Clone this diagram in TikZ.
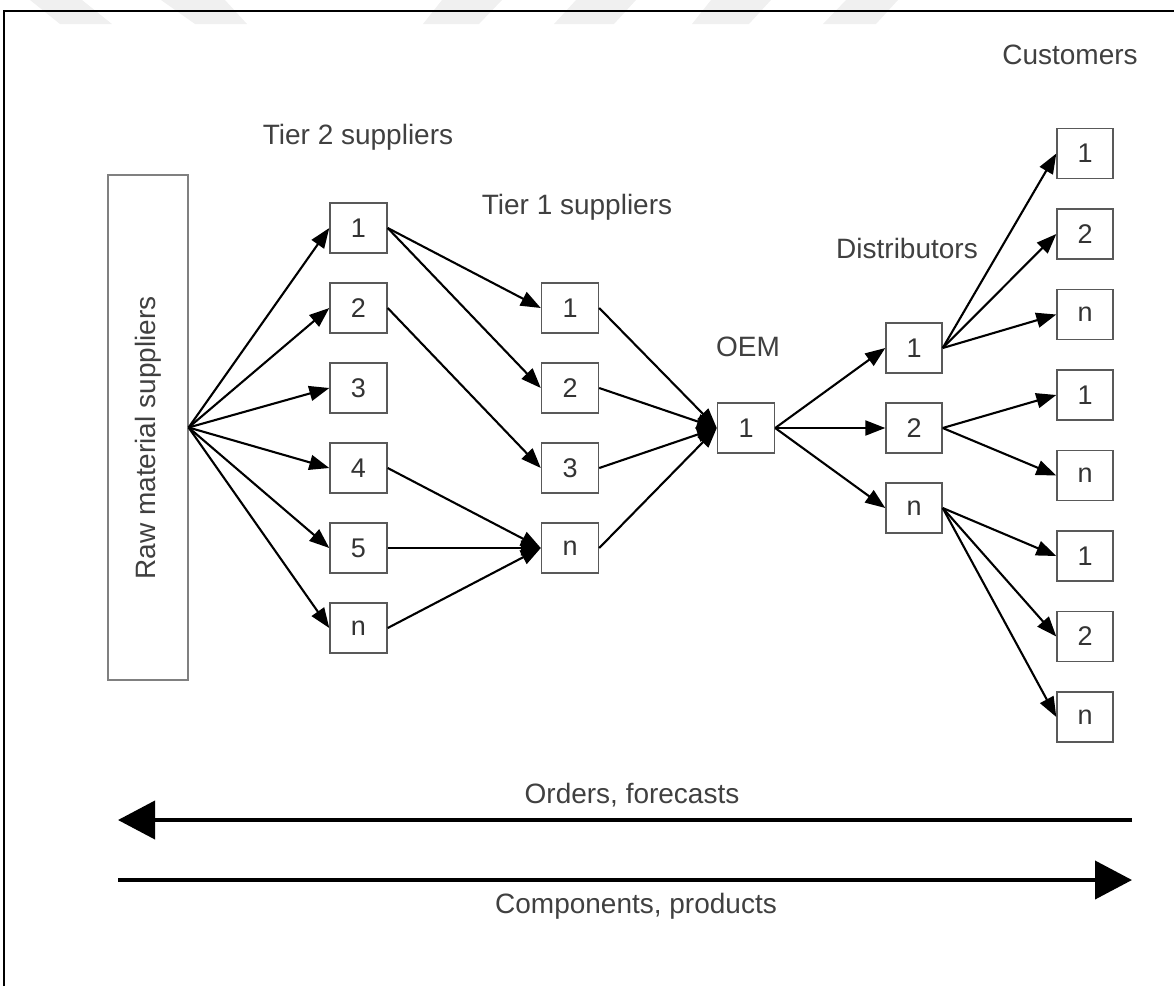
\documentclass[tikz,border=0pt]{standalone}
\usepackage{fontspec}
\setmainfont{Liberation Sans}
\usetikzlibrary{arrows.meta}
\begin{document}
\begin{tikzpicture}[x=1pt,y=-1pt,
  box/.style={draw=black!65,line width=1.4pt,minimum width=57pt,minimum height=50pt,inner sep=0pt,font=\fontsize{27}{30}\selectfont,text=black!80},
  rawbox/.style={draw=black!50,line width=1.2pt,minimum width=80pt,minimum height=505pt,inner sep=0pt},
  lbl/.style={font=\fontsize{28}{32}\selectfont,text=black!75,inner sep=0pt},
  conn/.style={line width=2.1pt,draw=black,-{Triangle[length=20pt,width=15pt]}},
  bigarrow/.style={line width=4pt,-{Triangle[length=37pt,width=38pt]}},
  wm/.style={fill=black!6}]
\useasboundingbox (0,0) rectangle (1174,986);
% faint watermark stripes
\fill[wm] (30,0) -- (82,0) -- (112,24) -- (60,24) -- cycle;
\fill[wm] (161,0) -- (225,0) -- (247,24) -- (195,24) -- cycle;
\fill[wm] (442,0) -- (502,0) -- (479,24) -- (423,24) -- cycle;
\fill[wm] (576,0) -- (636,0) -- (614,24) -- (554,24) -- cycle;
\fill[wm] (711,0) -- (771,0) -- (749,24) -- (692,24) -- cycle;
\fill[wm] (846,0) -- (898,0) -- (876,24) -- (823,24) -- cycle;
% frame
\draw[line width=2pt] (4,986) -- (4,11) -- (1174,11);

% raw material suppliers
\node[rawbox] (raw) at (148,427.5) {};
\node[lbl,rotate=90] (rawlbl) at (148,438) {Raw material suppliers};
\coordinate (fan) at (raw.east);

% tier 2
\node[box] (t2a) at (358.5,228) {1};
\node[box] (t2b) at (358.5,308) {2};
\node[box] (t2c) at (358.5,388) {3};
\node[box] (t2d) at (358.5,468) {4};
\node[box] (t2e) at (358.5,548) {5};
\node[box] (t2f) at (358.5,628) {n};
% tier 1
\node[box] (t1a) at (570,308) {1};
\node[box] (t1b) at (570,388) {2};
\node[box] (t1c) at (570,468) {3};
\node[box] (t1d) at (570,548) {n};
% OEM
\node[box] (oem) at (746,428) {1};
% distributors
\node[box,minimum width=56pt] (d1) at (914,348) {1};
\node[box,minimum width=56pt] (d2) at (914,428) {2};
\node[box,minimum width=56pt] (d3) at (914,508) {n};
% customers
\node[box,minimum width=56pt] (c1) at (1085,153.5) {1};
\node[box,minimum width=56pt] (c2) at (1085,234) {2};
\node[box,minimum width=56pt] (c3) at (1085,314.5) {n};
\node[box,minimum width=56pt] (c4) at (1085,395) {1};
\node[box,minimum width=56pt] (c5) at (1085,475.5) {n};
\node[box,minimum width=56pt] (c6) at (1085,556) {1};
\node[box,minimum width=56pt] (c7) at (1085,636.5) {2};
\node[box,minimum width=56pt] (c8) at (1085,717) {n};

% labels
\node[lbl] (l2) at (358,137) {Tier 2 suppliers};
\node[lbl] (l1) at (577,207) {Tier 1 suppliers};
\node[lbl] (loem) at (748,347) {OEM};
\node[lbl] (ldist) at (907,248) {Distributors};
\node[lbl] (lcust) at (1070,55) {Customers};

% raw -> tier 2
\foreach \t in {t2a,t2b,t2c,t2d,t2e,t2f}
  \draw[conn] (fan) -- (\t.west);
% tier 2 -> tier 1
\draw[conn] (t2a.east) -- (t1a.west);
\draw[conn] (t2a.east) -- (t1b.west);
\draw[conn] (t2b.east) -- (t1c.west);
\draw[conn] (t2d.east) -- (t1d.west);
\draw[conn] (t2e.east) -- (t1d.west);
\draw[conn] (t2f.east) -- (t1d.west);
% tier 1 -> OEM
\foreach \t in {t1a,t1b,t1c,t1d}
  \draw[conn] (\t.east) -- (oem.west);
% OEM -> distributors
\foreach \t in {d1,d2,d3}
  \draw[conn] (oem.east) -- (\t.west);
% distributors -> customers
\foreach \t in {c1,c2,c3}
  \draw[conn] (d1.east) -- (\t.west);
\foreach \t in {c4,c5}
  \draw[conn] (d2.east) -- (\t.west);
\foreach \t in {c6,c7,c8}
  \draw[conn] (d3.east) -- (\t.west);

% flows
\coordinate (oR) at (1132,820);
\coordinate (oL) at (118,820);
\coordinate (pL) at (118,880);
\coordinate (pR) at (1132,880);
\draw[bigarrow] (oR) -- (oL);
\draw[bigarrow] (pL) -- (pR);
\node[lbl] (lorders) at (632,795) {Orders, forecasts};
\node[lbl] (lcomp) at (636,906) {Components, products};
\end{tikzpicture}
\end{document}
